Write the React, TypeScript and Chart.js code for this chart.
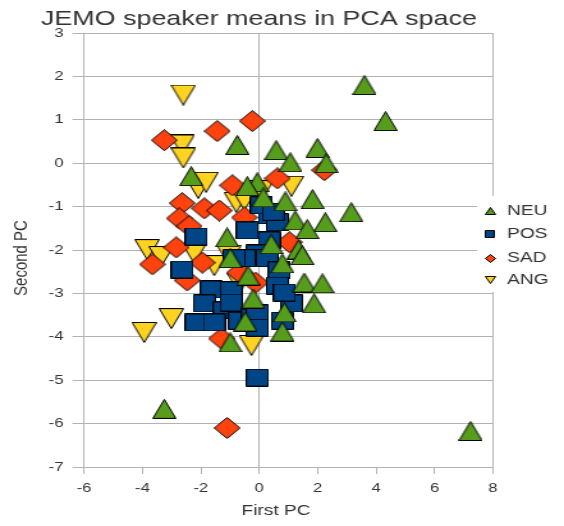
import React, { useEffect, useRef } from "react";
import { Chart, registerables } from "chart.js";

Chart.register(...registerables);

// ---- data ----
const seriesNames = ["NEU", "POS", "SAD", "ANG"];
const seriesColors = ["#579d1c", "#004586", "#ff420e", "#ffd320"];

const neuPoints: [number, number][] = [
  [3.6, 1.8], [4.32, 0.97], [-0.75, 0.42], [0.58, 0.3], [1.99, 0.35], [1.06, 0.02],
  [2.29, 0.0], [-2.33, -0.3], [-0.07, -0.44], [-0.41, -0.53], [0.14, -0.79], [0.89, -0.88],
  [1.82, -0.83], [3.15, -1.13], [1.23, -1.32], [2.26, -1.36], [1.64, -1.52], [-1.1, -1.71],
  [0.41, -1.87], [1.34, -1.99], [1.47, -2.12], [0.79, -2.31], [-0.99, -2.19], [-0.38, -2.59],
  [1.54, -2.75], [2.16, -2.77], [-0.21, -3.12], [1.88, -3.23], [0.86, -3.44], [-0.48, -3.65],
  [0.79, -3.88], [-0.99, -4.13], [-3.25, -5.66], [7.23, -6.17],
];

const posPoints: [number, number][] = [
  [-2.16, -1.69], [-2.64, -2.45], [-0.41, -1.55], [0.34, -1.2], [0.62, -1.36], [0.34, -1.78],
  [-0.07, -2.08], [-0.51, -2.19], [-0.86, -2.19], [0.27, -2.19], [0.68, -2.47], [0.62, -2.82],
  [1.1, -3.23], [0.86, -2.98], [-1.64, -2.91], [-0.96, -2.93], [-1.88, -3.23], [-1.2, -3.39],
  [-2.16, -3.67], [-1.54, -3.67], [-0.96, -3.21], [-0.68, -3.63], [-0.24, -3.56], [-0.07, -3.46],
  [-0.07, -3.79], [-0.07, -4.94], [0.79, -3.63], [0.07, -0.97], [0.48, -1.12],
];

const sadPoints: [number, number][] = [
  [-3.25, 0.53], [-1.44, 0.74], [-0.24, 0.97], [-0.92, -0.51], [0.62, -0.35], [2.23, -0.16],
  [-2.64, -0.92], [-1.88, -1.04], [-1.37, -1.09], [-2.74, -1.27], [-2.4, -1.45], [-0.51, -1.25],
  [-2.84, -1.94], [-3.66, -2.33], [-1.95, -2.29], [-2.47, -2.7], [-0.68, -2.52], [-1.3, -4.04],
  [-1.1, -6.1], [1.03, -1.82], [-0.13, -2.75],
];

const angPoints: [number, number][] = [
  [-2.6, 1.57], [-2.64, 0.42], [-2.6, 0.12], [-2.09, -0.58], [-1.82, -0.44], [-0.79, -0.9],
  [-0.51, -0.85], [1.1, -0.53], [-3.84, -1.99], [-3.36, -2.15], [-2.23, -2.08], [-3.01, -3.58],
  [-3.94, -3.9], [-0.27, -4.2], [-0.68, -2.77], [-1.03, -2.12], [-1.54, -2.36], [0.07, -0.63],
];

const xRange = [-6, 8];
const yRange = [-7, 3];
const xStep = 2;
const yStep = 1;

const chartTitle = "JEMO speaker means in PCA space";
const xTitle = "First PC";
const yTitle = "Second PC";

// ---- styling ----
const FONT = "'Liberation Sans', Arial, sans-serif";
const TEXT = "#333333";
const GRID = "#b3b3b3";

// the reference picture is horizontally stretched; draw narrower and stretch via CSS
const OUT_W = 564;
const OUT_H = 526;
const CANVAS_W = 441;
const SX = OUT_W / CANVAS_W;
const nx = (displayX: number) => displayX / SX;

type Shape = "tri" | "itri" | "rect" | "diamond";

function makeMarker(shape: Shape, w: number, h: number, fill: string): HTMLCanvasElement {
  const c = document.createElement("canvas");
  c.width = w;
  c.height = h;
  const ctx = c.getContext("2d")!;
  const l = 0.5, r = w - 0.5, t = 0.5, b = h - 0.5, cx = w / 2, cy = h / 2;
  ctx.beginPath();
  if (shape === "tri") {
    ctx.moveTo(cx, t); ctx.lineTo(r, b); ctx.lineTo(l, b);
  } else if (shape === "itri") {
    ctx.moveTo(l, t); ctx.lineTo(r, t); ctx.lineTo(cx, b);
  } else if (shape === "rect") {
    ctx.rect(l, t, r - l, b - t);
  } else {
    ctx.moveTo(cx, t); ctx.lineTo(r, cy); ctx.lineTo(cx, b); ctx.lineTo(l, cy);
  }
  ctx.closePath();
  ctx.fillStyle = fill;
  ctx.fill();
  ctx.lineWidth = 1;
  ctx.strokeStyle = "#000";
  ctx.stroke();
  return c;
}

const shapes: Shape[] = ["tri", "rect", "diamond", "itri"];
const markerSizes: [number, number][] = [[19, 20], [18, 18], [21, 22], [20, 21]];
const legendSizes: [number, number][] = [[9, 8], [8, 8], [9, 9], [9, 8]];

export default function App() {
  const ref = useRef<HTMLCanvasElement | null>(null);

  useEffect(() => {
    if (!ref.current) return;
    const allPoints = [neuPoints, posPoints, sadPoints, angPoints];
    const markers = shapes.map((s, i) => makeMarker(s, markerSizes[i][0], markerSizes[i][1], seriesColors[i]));
    const legendMarkers = shapes.map((s, i) => makeMarker(s, legendSizes[i][0], legendSizes[i][1], seriesColors[i]));

    const decor = {
      id: "decor",
      afterDraw(chart: any) {
        const ctx = chart.ctx as CanvasRenderingContext2D;
        ctx.save();
        // title
        ctx.fillStyle = TEXT;
        ctx.font = `21px ${FONT}`;
        ctx.textAlign = "left";
        ctx.textBaseline = "alphabetic";
        ctx.fillText(chartTitle, nx(41), 25);
        // axis titles
        ctx.font = `15px ${FONT}`;
        ctx.textAlign = "center";
        ctx.textBaseline = "middle";
        ctx.fillText(xTitle, nx(276), 511);
        ctx.save();
        ctx.translate(nx(22), 258);
        ctx.rotate(-Math.PI / 2);
        ctx.fillText(yTitle, 0, 0);
        ctx.restore();
        // legend
        ctx.fillStyle = "#ffffff";
        ctx.fillRect(nx(477), 196, CANVAS_W - nx(477), 96);
        const ys = [211, 234, 258, 280];
        ctx.font = `15px ${FONT}`;
        ctx.textAlign = "left";
        ctx.textBaseline = "middle";
        seriesNames.forEach((name, i) => {
          const m = legendMarkers[i];
          ctx.drawImage(m, Math.round(nx(490) - m.width / 2), Math.round(ys[i] - m.height / 2));
          ctx.fillStyle = TEXT;
          ctx.fillText(name, nx(507), ys[i]);
        });
        ctx.restore();
      },
    };

    const chart = new Chart(ref.current, {
      type: "scatter",
      data: {
        datasets: seriesNames.map((name, i) => ({
          label: name,
          data: allPoints[i].map(([x, y]) => ({ x, y })),
          pointStyle: markers[i] as any,
          pointRadius: 10,
          pointHoverRadius: 10,
          backgroundColor: seriesColors[i],
          borderColor: "#000",
          clip: false as any,
        })),
      },
      options: {
        animation: false,
        responsive: false,
        maintainAspectRatio: false,
        devicePixelRatio: 1,
        layout: { padding: { top: 33, right: CANVAS_W - nx(493), left: 0, bottom: 0 } },
        plugins: {
          legend: { display: false },
          title: { display: false },
          tooltip: { enabled: false },
        },
        scales: {
          x: {
            type: "linear",
            min: xRange[0],
            max: xRange[1],
            afterFit: (s: any) => { s.height = 59; },
            ticks: {
              stepSize: xStep,
              color: TEXT,
              font: { family: FONT, size: 13 },
              padding: 7,
            },
            grid: {
              color: (c: any) =>
                c.tick && (c.tick.value === 0 || c.tick.value === xRange[0] || c.tick.value === xRange[1])
                  ? GRID
                  : "rgba(0,0,0,0)",
              tickColor: GRID,
              tickLength: 7,
              lineWidth: 1,
            },
            border: { display: true, color: GRID },
          },
          y: {
            type: "linear",
            min: yRange[0],
            max: yRange[1],
            afterFit: (s: any) => { s.width = nx(84); },
            ticks: {
              stepSize: yStep,
              color: TEXT,
              font: { family: FONT, size: 13 },
              padding: 7,
            },
            grid: {
              color: GRID,
              tickColor: GRID,
              tickLength: 9,
              lineWidth: 1,
            },
            border: { display: true, color: GRID },
          },
        },
      },
      plugins: [decor],
    });
    return () => chart.destroy();
  }, []);

  return (
    <div style={{ position: "absolute", left: 0, top: 0, width: OUT_W, height: OUT_H, background: "#fff" }}>
      <canvas
        ref={ref}
        width={CANVAS_W}
        height={OUT_H}
        style={{ display: "block", width: `${OUT_W}px`, height: `${OUT_H}px` }}
      />
    </div>
  );
}
